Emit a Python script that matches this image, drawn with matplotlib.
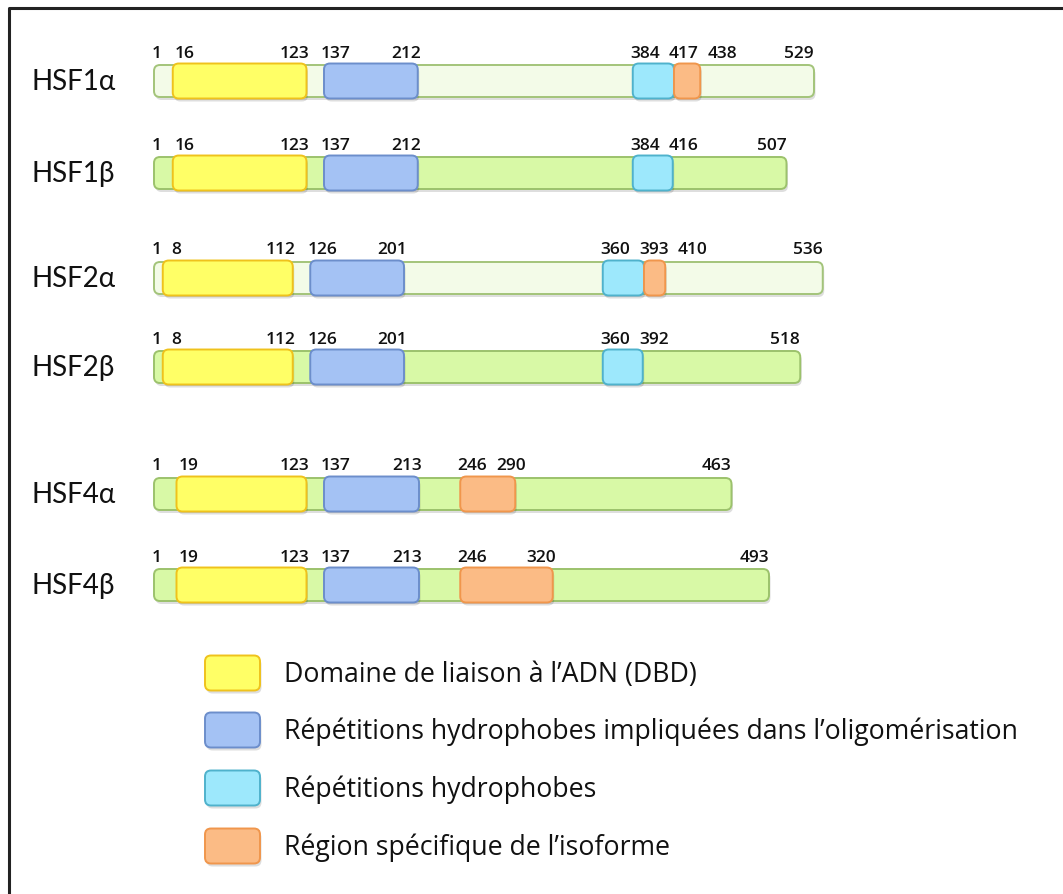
import numpy as np
import matplotlib.pyplot as plt
from matplotlib.patches import FancyBboxPatch
from matplotlib.lines import Line2D

# protein data -------------------------------------------------
names = ['HSF1α', 'HSF1β', 'HSF2α', 'HSF2β', 'HSF4α', 'HSF4β']
lengths = [529, 507, 536, 518, 463, 493]
dbd = [(16, 123), (16, 123), (8, 112), (8, 112), (19, 123), (19, 123)]
oligo = [(137, 212), (137, 212), (126, 201), (126, 201), (137, 213), (137, 213)]
hydro = [(384, 417), (384, 416), (360, 393), (360, 392), None, None]
isoform = [(417, 438), None, (393, 410), None, (246, 290), (246, 320)]
pale_backbone = [True, False, True, False, False, False]

legend_labels = ['Domaine de liaison à l’ADN (DBD)',
                 'Répétitions hydrophobes impliquées dans l’oligomérisation',
                 'Répétitions hydrophobes',
                 'Région spécifique de l’isoforme']

# layout (pixels) ----------------------------------------------
W, H = 1063, 894
X0 = 154.0      # pixel of residue 1
K = 1.25        # pixels per residue
row_y = [81, 173, 278, 367, 494, 585]
bb_h = 32
dom_h = 35
RAD = 6

c_dbd = ('#ffff66', '#efc21c')
c_oligo = ('#a4c2f4', '#6c8ecb')
c_hydro = ('#9de8fc', '#4fb2cc')
c_iso = ('#fbbb85', '#f0964c')
c_pale = ('#f3fbe8', '#a3c47a')
c_dark = ('#d8f9a6', '#9cc26c')

plt.rcParams['font.family'] = ['Open Sans', 'Noto Sans', 'DejaVu Sans']
NAME_FONT = ['Lato', 'Noto Sans', 'DejaVu Sans']

fig = plt.figure(figsize=(W / 100, H / 100), dpi=100)
lay = fig.add_axes([0, 0, 1, 1])
lay.set_xlim(0, W)
lay.set_ylim(H, 0)
lay.axis('off')

ax = fig.add_axes([0, 0, 1, 1])
ax.set_xlim(1 - X0 / K, 1 + (W - X0) / K)
ax.set_ylim(H, 0)
ax.axis('off')
ax.patch.set_alpha(0)


def rbox(a, x, y, w, h, fc, ec, aspect, z, shadow=True):
    rs = RAD / (1 if aspect == 1 else K)
    if shadow:
        sx = 1.5 / (1 if aspect == 1 else K)
        a.add_patch(FancyBboxPatch((x + sx, y - h / 2 + 3), w, h,
                                   boxstyle=f'round,pad=0,rounding_size={rs}',
                                   mutation_aspect=aspect, fc='black', ec='none',
                                   alpha=0.13, zorder=z - 0.5))
    a.add_patch(FancyBboxPatch((x, y - h / 2), w, h,
                               boxstyle=f'round,pad=0,rounding_size={rs}',
                               mutation_aspect=aspect, fc=fc, ec=ec, lw=1.4,
                               zorder=z))


# frame (only left + top visible)
lay.add_line(Line2D([8.5, 8.5, W], [H, 8, 8], color='#222222', lw=2.2))

for i, name in enumerate(names):
    y = row_y[i]
    lay.text(32, y + 1, name, fontsize=20, ha='left', va='center',
             color='#111111', family=NAME_FONT)

    fc, ec = c_pale if pale_backbone[i] else c_dark
    rbox(ax, 1, y, lengths[i] - 1, bb_h, fc, ec, K, 2)

    ticks = {1: 'first', lengths[i]: 'last'}
    for dom, col in ((dbd[i], c_dbd), (oligo[i], c_oligo),
                     (hydro[i], c_hydro), (isoform[i], c_iso)):
        if dom is None:
            continue
        s, e = dom
        rbox(ax, s, y, e - s, dom_h, col[0], col[1], K, 3)
        ticks[s] = 'shared' if ticks.get(s) == 'end' else 'start'
        ticks[e] = 'shared' if ticks.get(e) == 'start' else 'end'

    # label anchor offsets (px), then spread so they don't collide
    shift = {'first': 3, 'start': 12, 'end': -12, 'shared': 0, 'last': -15}
    vals = sorted(ticks)
    cx = [X0 + (v - 1) * K + shift[ticks[v]] for v in vals]
    wd = [10 * len(str(v)) for v in vals]
    for j in range(1, len(vals)):
        need = cx[j - 1] + (wd[j - 1] + wd[j]) / 2 + 9
        if cx[j] < need:
            cx[j] = need
    for v, c in zip(vals, cx):
        lay.text(c, y - 23.5, str(v), fontsize=12.5, ha='center', va='baseline',
                 color='#111111', fontweight='semibold')

# legend
leg_y = [673, 730, 788, 846]
for (fc, ec), lab, y in zip([c_dbd, c_oligo, c_hydro, c_iso], legend_labels, leg_y):
    rbox(lay, 205, y, 55, 35, fc, ec, 1, 3)
    lay.text(284, y + 9, lab, fontsize=19.2, ha='left', va='baseline',
             color='#111111')

fig.savefig('out.png', dpi=100)
